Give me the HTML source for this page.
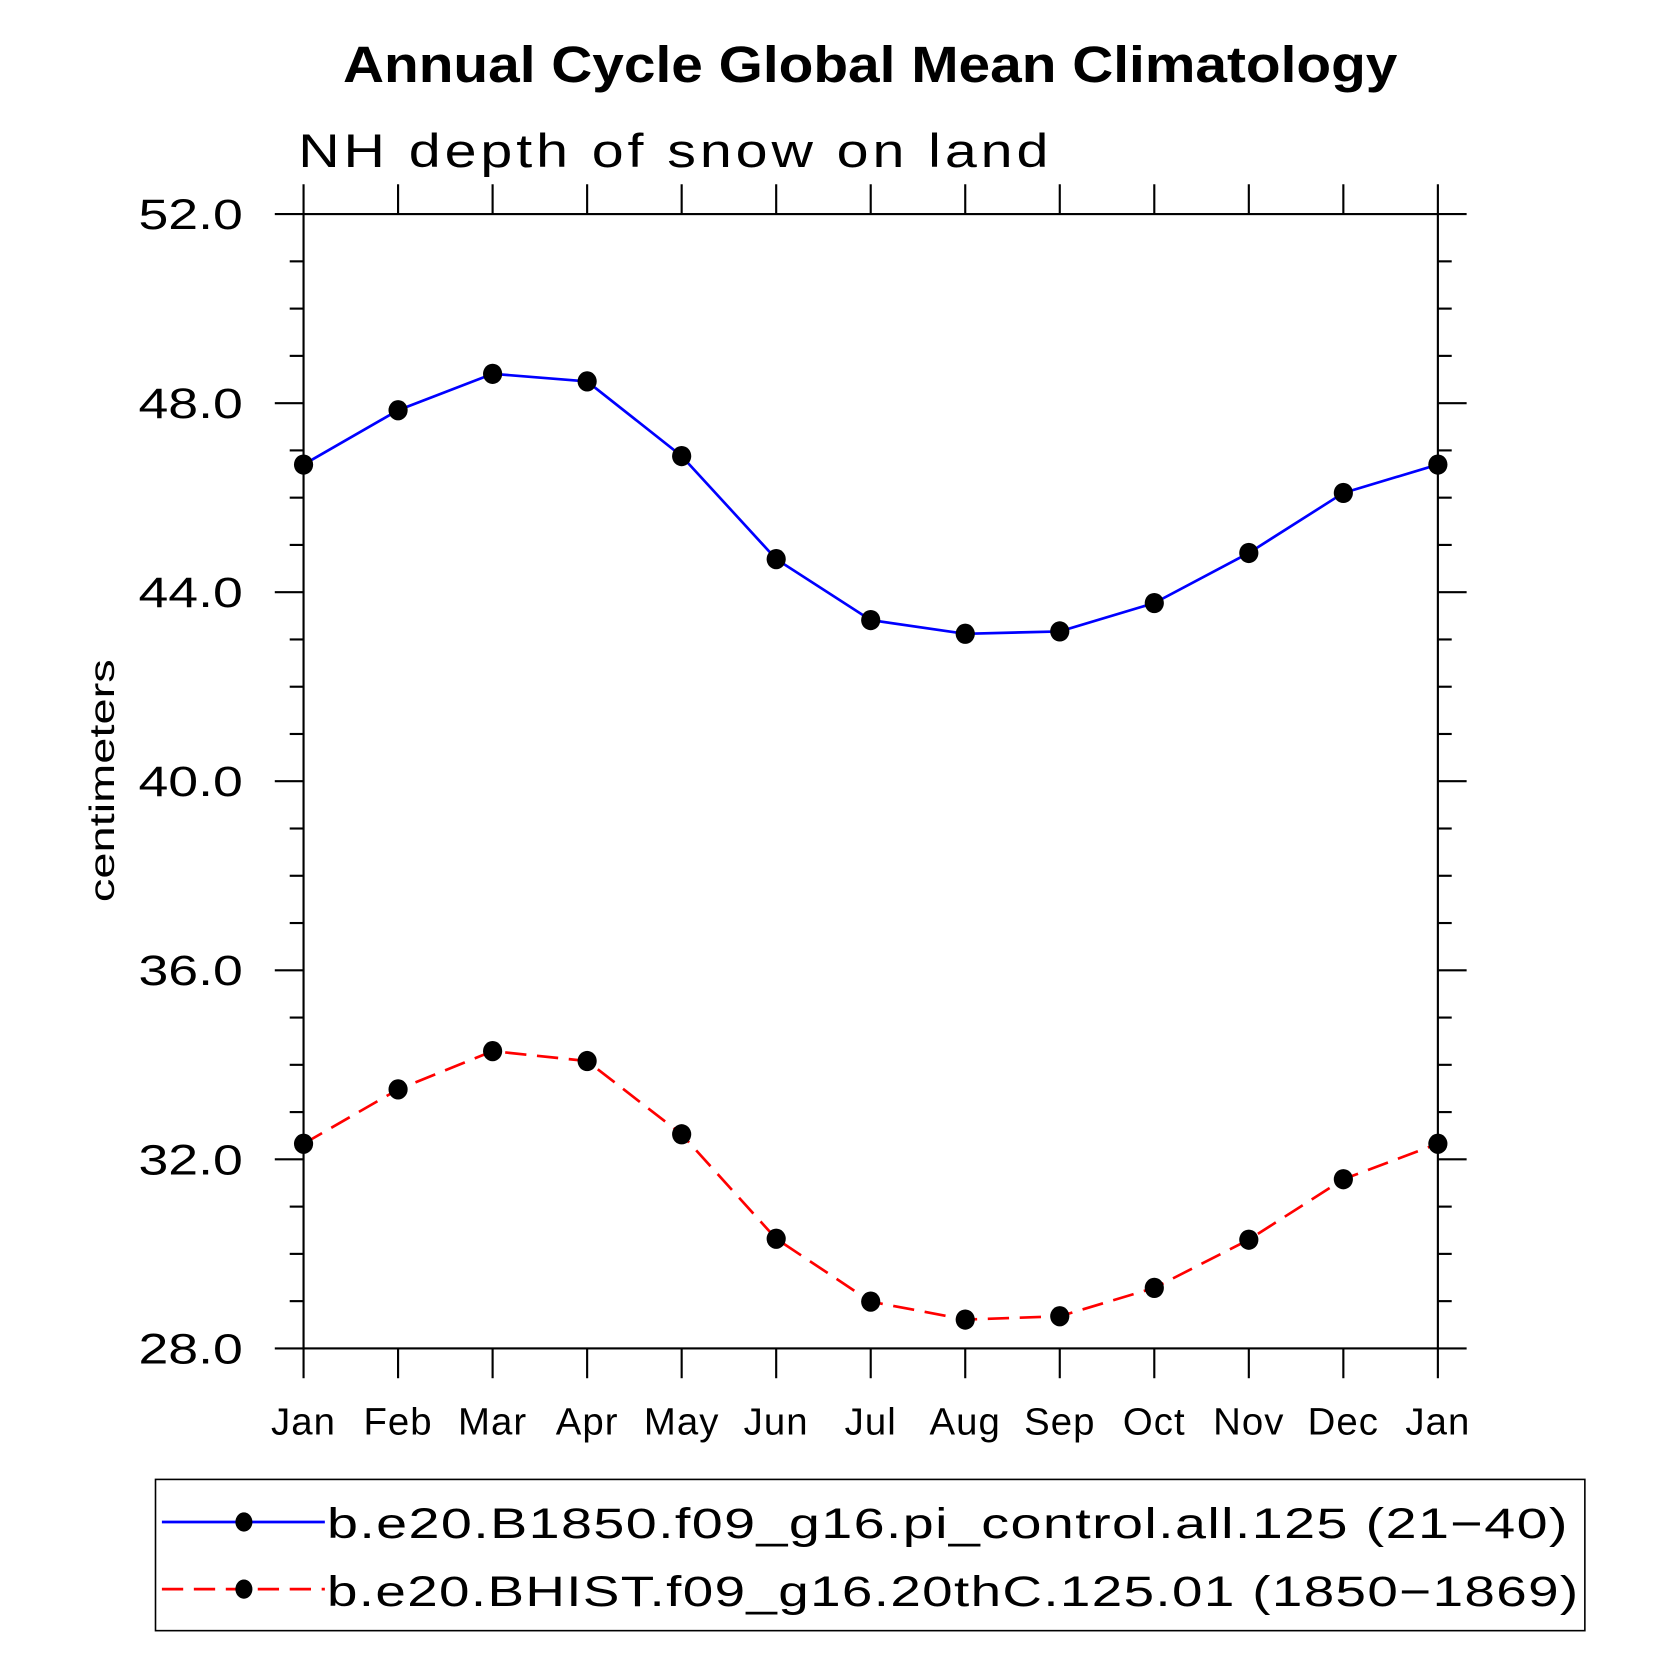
<!DOCTYPE html>
<html><head><meta charset="utf-8"><style>
html,body{margin:0;padding:0;background:#fff;}
svg{display:block;font-family:"Liberation Sans",sans-serif;}
</style></head><body>
<svg id="chart" width="1669" height="1669" viewBox="0 0 1567 1567" xmlns="http://www.w3.org/2000/svg">
<text x="322" y="77" font-size="48" font-weight="bold" textLength="990" lengthAdjust="spacingAndGlyphs">Annual Cycle Global Mean Climatology</text>
<text x="280" y="157" font-size="44" letter-spacing="3" textLength="708" lengthAdjust="spacingAndGlyphs">NH depth of snow on land</text>
<text transform="translate(107,733) rotate(-90)" text-anchor="middle" font-size="33" textLength="228" lengthAdjust="spacingAndGlyphs">centimeters</text>
<g id="axes"></g>
<g id="series"></g>
<rect x="146" y="1389" width="1342" height="142" fill="none" stroke="#000" stroke-width="1.5"/>
<g>
<line x1="152" y1="1429" x2="305" y2="1429" stroke="#0000ff" stroke-width="2.5"/>
<ellipse cx="229" cy="1429" rx="8" ry="9"/>
<text x="307" y="1444" font-size="40" letter-spacing="1" textLength="1166" lengthAdjust="spacingAndGlyphs">b.e20.B1850.f09_g16.pi_control.all.125 (21−40)</text>
</g>
<g>
<line x1="152" y1="1492" x2="305" y2="1492" stroke="#ff0000" stroke-width="2.5" stroke-dasharray="20,10"/>
<ellipse cx="229" cy="1492" rx="8" ry="9"/>
<text x="307" y="1508" font-size="40" letter-spacing="1" textLength="1176" lengthAdjust="spacingAndGlyphs">b.e20.BHIST.f09_g16.20thC.125.01 (1850−1869)</text>
</g>
</svg>
<script>
const months = ["Jan","Feb","Mar","Apr","May","Jun","Jul","Aug","Sep","Oct","Nov","Dec","Jan"];
const controlValues = [46.70,47.85,48.62,48.46,46.88,44.70,43.41,43.12,43.17,43.77,44.83,46.10,46.70];
const histValues = [32.33,33.48,34.29,34.08,32.53,30.32,28.99,28.61,28.68,29.28,30.30,31.58,32.33];
const yTickLabels = ["28.0","32.0","36.0","40.0","44.0","48.0","52.0"];
const yMin = 28, yMax = 52;

const L=285,R=1350,T=201,B=1266;
const NS="http://www.w3.org/2000/svg";
function xScale(i){return L+(R-L)*i/(months.length-1);}
function yScale(v){return B-(B-T)*(v-yMin)/(yMax-yMin);}
function mk(tag,attrs,parent){const e=document.createElementNS(NS,tag);for(const k in attrs)e.setAttribute(k,attrs[k]);parent.appendChild(e);return e;}
const axes=document.getElementById('axes');
const frame=mk('rect',{x:L,y:T,width:R-L,height:B-T,fill:'none',stroke:'#000','stroke-width':2},axes);


for(let v=yMin;v<=yMax;v++){
  const y=yScale(v);const major=(v-yMin)%4===0;const len=major?27:13;
  mk('line',{x1:L-len,y1:y,x2:L,y2:y,stroke:'#000','stroke-width':2},axes);
  mk('line',{x1:R,y1:y,x2:R+len,y2:y,stroke:'#000','stroke-width':2},axes);
}
yTickLabels.forEach(t=>{
  const el=mk('text',{x:130,y:yScale(parseFloat(t))+14,'font-size':40,textLength:98,lengthAdjust:'spacingAndGlyphs'},axes);
  el.textContent=t;
  
  
});
months.forEach((m,i)=>{
  const x=xScale(i);
  mk('line',{x1:x,y1:B,x2:x,y2:B+28,stroke:'#000','stroke-width':2},axes);
  mk('line',{x1:x,y1:T,x2:x,y2:T-28,stroke:'#000','stroke-width':2},axes);
  const el=mk('text',{x:x,y:1347,'text-anchor':'middle','font-size':36,'letter-spacing':'1'},axes);
  el.textContent=m;
  
  
});
const series=document.getElementById('series');
function draw(vals,color,dash,name){
  const g=mk('g',{},series);
  
  
  const pts=vals.map((v,i)=>xScale(i)+','+yScale(v)).join(' ');
  const a={points:pts,fill:'none',stroke:color,'stroke-width':2.5};
  if(dash)a['stroke-dasharray']=dash;
  mk('polyline',a,g);
  vals.forEach((v,i)=>{
    const c=mk('ellipse',{cx:xScale(i),cy:yScale(v),rx:9,ry:9.5,fill:'#000'},g);
    
    
  });
}
draw(controlValues,'#0000ff',null,'series-control');
draw(histValues,'#ff0000','20,10','series-hist');
</script>
</body></html>
